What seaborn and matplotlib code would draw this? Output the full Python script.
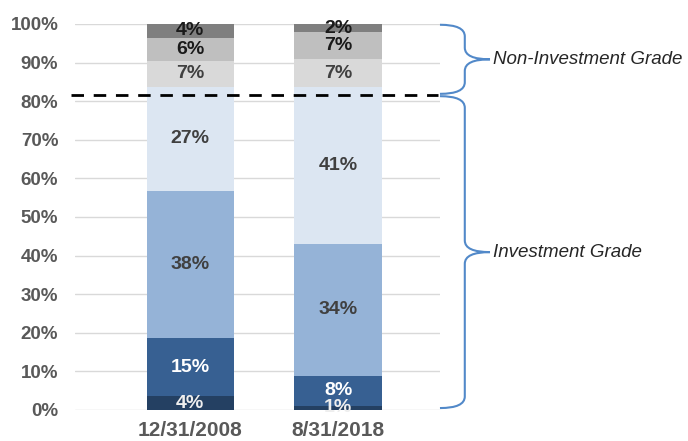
import numpy as np
import pandas as pd
import seaborn as sns
import matplotlib.pyplot as plt
from matplotlib.path import Path
from matplotlib.patches import PathPatch

# data (bottom segment first)
dates = ["12/31/2008", "8/31/2018"]
segments = ["s1", "s2", "s3", "s4", "s5", "s6", "s7"]
values_2008 = [3.6, 15.0, 38.2, 27.0, 6.6, 6.0, 3.6]
values_2018 = [1.1, 7.8, 34.2, 40.6, 7.2, 7.0, 2.1]
labels_2008 = ["4%", "15%", "38%", "27%", "7%", "6%", "4%"]
labels_2018 = ["1%", "8%", "34%", "41%", "7%", "7%", "2%"]
colors = ["#244062", "#376092", "#95B3D7", "#DCE6F2", "#D9D9D9", "#BFBFBF", "#7F7F7F"]
text_colors = ["#eeeeee", "white", "#404040", "#404040", "#404040", "#1a1a1a", "#1a1a1a"]
cutoff = 81.6
groups = [("Non-Investment Grade", 81.9, 99.8), ("Investment Grade", 0.5, 81.3)]

sns.set_theme(style="white")
plt.rcParams['font.family'] = ['Liberation Sans', 'DejaVu Sans']

df = pd.DataFrame({"date": dates})
for i, s in enumerate(segments):
    df[s] = [values_2008[i], values_2018[i]]
cum = df[segments].cumsum(axis=1)
cum["date"] = df["date"]

fig = plt.figure(figsize=(6.88, 4.41), dpi=100)
ax = fig.add_axes([0.109, 0.0703, 0.5305, 0.8753])

# stacked bars: draw cumulative totals from top down
for i in range(len(segments) - 1, -1, -1):
    sns.barplot(data=cum, x="date", y=segments[i], color=colors[i], width=0.59,
                saturation=1, linewidth=0, edgecolor="none", ax=ax, zorder=2)

# segment labels
all_labels = [labels_2008, labels_2018]
for j in range(len(dates)):
    for i in range(len(segments)):
        top = cum.loc[j, segments[i]]
        mid = top - df.loc[j, segments[i]] / 2
        ax.text(j, mid, all_labels[j][i], ha="center", va="center", fontsize=14,
                fontweight="bold", color=text_colors[i], zorder=4)

ax.set_xlim(-0.78, 1.69)
ax.set_ylim(0, 100)
ax.set_yticks(np.arange(0, 101, 10))
ax.set_yticklabels([f"{t}%" for t in range(0, 101, 10)])
ax.set_xlabel("")
ax.set_ylabel("")
ax.yaxis.grid(True, color="#d9d9d9", linewidth=1, zorder=0)
ax.set_axisbelow(True)
sns.despine(ax=ax, left=True, bottom=True)
ax.tick_params(axis="y", length=0, labelsize=13.5, labelcolor="#595959", pad=12)
ax.tick_params(axis="x", length=0, labelsize=15, labelcolor="#595959", pad=8)
for lab in ax.get_xticklabels() + ax.get_yticklabels():
    lab.set_fontweight("bold")

# cutoff line
ax.plot([-0.01, 0.995], [cutoff, cutoff], transform=ax.get_yaxis_transform(),
        color="black", linestyle=(0, (4.5, 3.5)), linewidth=2, clip_on=False, zorder=5)


def brace(ax, y0, y1, x0=1.0, xs=1.068, xt=1.137, r=3.0):
    ym = (y0 + y1) / 2
    verts = [(x0, y1), (xs, y1), (xs, y1 - r),
             (xs, ym + r), (xs, ym), (xt, ym),
             (xs, ym), (xs, ym - r),
             (xs, y0 + r), (xs, y0), (x0, y0)]
    codes = [Path.MOVETO, Path.CURVE3, Path.CURVE3,
             Path.LINETO, Path.CURVE3, Path.CURVE3,
             Path.CURVE3, Path.CURVE3,
             Path.LINETO, Path.CURVE3, Path.CURVE3]
    patch = PathPatch(Path(verts, codes), facecolor="none", edgecolor="#5289c9",
                      linewidth=1.5, transform=ax.get_yaxis_transform(), clip_on=False)
    ax.add_patch(patch)
    return ym


for name, lo, hi in groups:
    ym = brace(ax, lo, hi)
    ax.text(1.146, ym, name, transform=ax.get_yaxis_transform(), ha="left", va="center",
            fontsize=13.5, fontstyle="italic", color="#262626", clip_on=False)

fig.savefig("out.png", dpi=100)
